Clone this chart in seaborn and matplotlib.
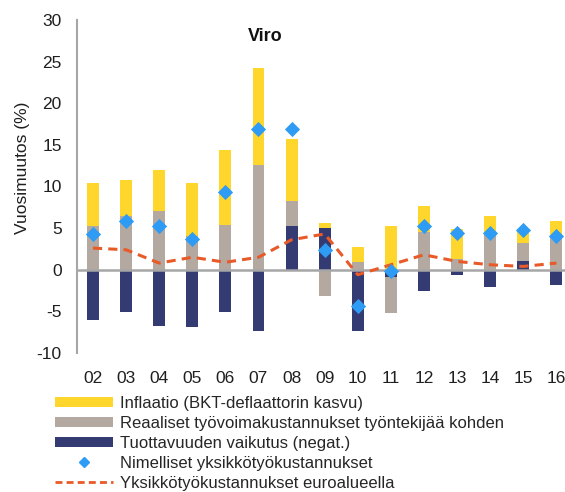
import numpy as np
import pandas as pd
import matplotlib.pyplot as plt
from matplotlib.patches import Patch
from matplotlib.lines import Line2D
import seaborn as sns

# Data (Viro)
years = ['02', '03', '04', '05', '06', '07', '08', '09', '10', '11', '12', '13', '14', '15', '16']
inflation = [5.2, 4.3, 5.0, 6.4, 9.0, 11.6, 7.5, 0.6, 1.8, 5.2, 3.1, 3.6, 2.3, 1.6, 1.8]
real_labour = [5.2, 6.5, 7.0, 4.0, 5.4, 12.6, 3.0, -3.2, 0.9, -4.3, 4.5, 1.3, 4.2, 2.1, 4.0]
productivity = [-6.0, -5.1, -6.7, -6.9, -5.1, -7.4, 5.2, 5.0, -7.4, -0.9, -2.6, -0.6, -2.1, 1.1, -1.8]
nominal_ulc = [4.3, 5.8, 5.2, 3.7, 9.3, 16.9, 16.9, 2.4, -4.3, -0.1, 5.2, 4.4, 4.4, 4.8, 4.1]
euro_ulc = [2.6, 2.4, 0.8, 1.5, 0.9, 1.5, 3.6, 4.3, -0.6, 0.6, 1.8, 1.0, 0.6, 0.4, 0.8]

labels = ['Inflaatio (BKT-deflaattorin kasvu)',
          'Reaaliset työvoimakustannukset työntekijää kohden',
          'Tuottavuuden vaikutus (negat.)',
          'Nimelliset yksikkötyökustannukset',
          'Yksikkötyökustannukset euroalueella']

c_yellow = '#FFD62C'
c_grey = '#B3A9A0'
c_navy = '#343B72'
c_diamond = '#2E9BF5'
c_line = '#E85A28'

sns.set_style('white')
plt.rcParams['font.family'] = ['Liberation Sans', 'DejaVu Sans']
plt.rcParams['axes.unicode_minus'] = False

df = pd.DataFrame({'year': years, 'infl': inflation, 'real': real_labour,
                   'prod': productivity, 'nulc': nominal_ulc, 'euro': euro_ulc})
df['pos'] = np.arange(len(df))

# stacked parts: positives build upward (productivity, real labour, inflation),
# negatives build downward (productivity, real labour)
p1 = df['prod'].clip(lower=0)
p2 = p1 + df['real'].clip(lower=0)
p3 = p2 + df['infl'].clip(lower=0)
n1 = df['prod'].clip(upper=0)
n2 = n1 + df['real'].clip(upper=0)

fig = plt.figure(figsize=(5.65, 4.92), dpi=100)
ax = fig.add_axes([77 / 565, 139 / 492, 488 / 565, 333 / 492])

bw = 0.36
for vals, col in [(p3, c_yellow), (p2, c_grey), (p1, c_navy), (n2, c_grey), (n1, c_navy)]:
    sns.barplot(x=df['year'], y=vals, color=col, width=bw, saturation=1,
                linewidth=0, ax=ax, zorder=2)

ax.axhline(0, color='#A6A6A6', lw=1.8, zorder=2.5)

sns.lineplot(x=df['pos'], y=df['euro'], color=c_line, lw=2.2,
             linestyle=(0, (3, 2)), ax=ax, zorder=3)
sns.scatterplot(x=df['pos'], y=df['nulc'], marker='D', s=60, color=c_diamond,
                linewidth=0, ax=ax, zorder=4)

ax.set_xlim(-0.483, 14.26)
ax.set_ylim(-10, 30)
ax.set_yticks(range(-10, 31, 5))
ax.set_xticks(df['pos'])
ax.set_xticklabels(years)
ax.tick_params(axis='both', length=0, labelsize=12.5, colors='#1f1f1f')
ax.tick_params(axis='x', pad=13)
ax.tick_params(axis='y', pad=11)
ax.set_xlabel('')
ax.set_ylabel('Vuosimuutos (%)', fontsize=12.5, color='#1f1f1f')
ax.yaxis.set_label_coords(-0.096, 0.556)

for s in ['top', 'right', 'bottom']:
    ax.spines[s].set_visible(False)
ax.spines['left'].set_color('#A6A6A6')
ax.spines['left'].set_linewidth(1.5)

ax.text(0.385, 0.949, 'Viro', transform=ax.transAxes, ha='center', va='center',
        fontsize=13, fontweight='bold', color='#111111')

handles = [Patch(facecolor=c_yellow, edgecolor='none'),
           Patch(facecolor=c_grey, edgecolor='none'),
           Patch(facecolor=c_navy, edgecolor='none'),
           Line2D([], [], marker='D', markersize=5, color=c_diamond, linestyle='none'),
           Line2D([], [], color=c_line, lw=2, linestyle=(0, (2.5, 1.5)))]
fig.legend(handles, labels, loc='upper left', bbox_to_anchor=(55 / 565, 1 - 396 / 492),
           frameon=False, fontsize=12, borderpad=0, borderaxespad=0,
           handlelength=3.45, handleheight=0.6, handletextpad=0.42, labelspacing=0.3)

fig.savefig('out.png', dpi=100)
